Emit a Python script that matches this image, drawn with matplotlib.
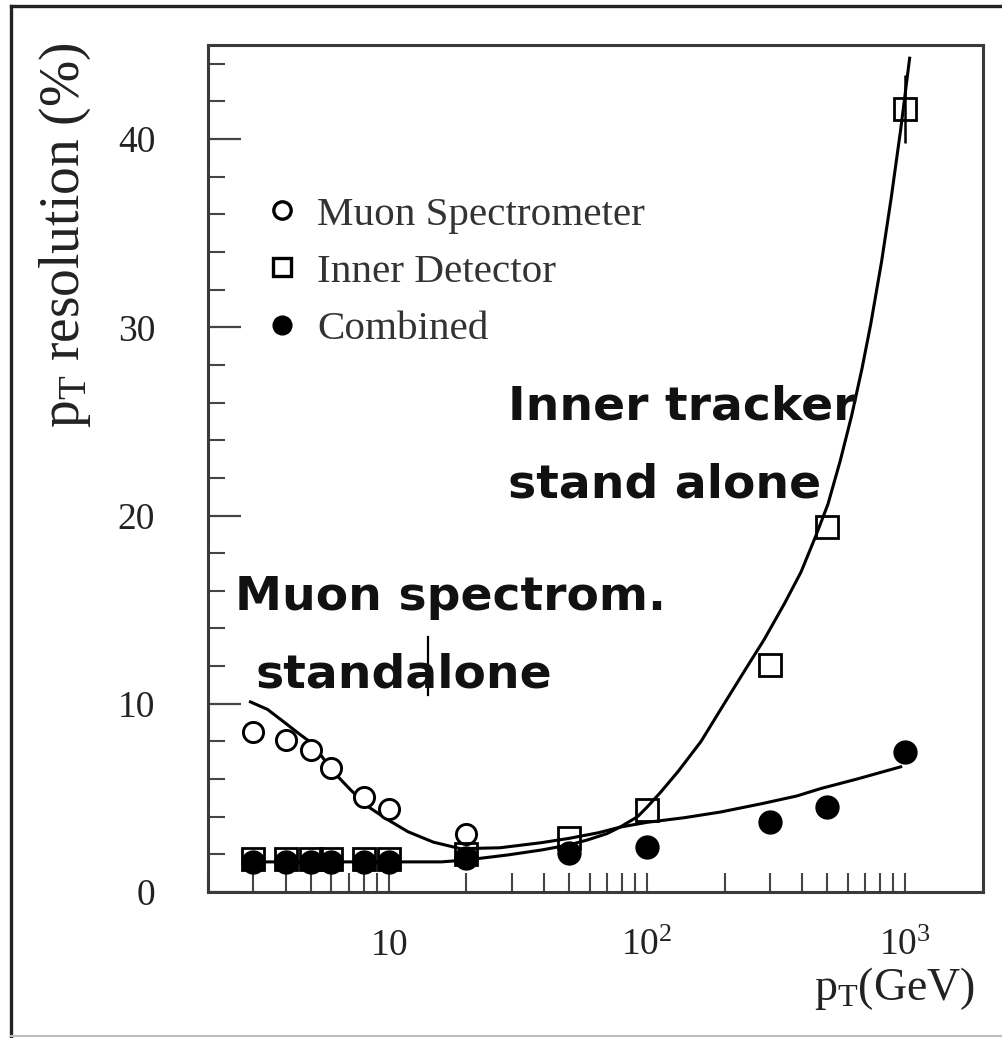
import matplotlib
matplotlib.use("Agg")
import matplotlib.pyplot as plt
from matplotlib.lines import Line2D
from matplotlib.ticker import FixedLocator, NullFormatter, FixedFormatter

plt.rcParams['font.family'] = ['Liberation Serif', 'DejaVu Serif']
plt.rcParams['mathtext.fontset'] = 'custom'
plt.rcParams['mathtext.rm'] = 'Liberation Serif'
plt.rcParams['mathtext.it'] = 'Liberation Serif:italic'

# ---- data ----
ms_pt = [3, 4, 5, 6, 8, 10, 20]
ms_res = [8.5, 8.1, 7.55, 6.6, 5.05, 4.4, 3.1]
id_pt = [3, 4, 5, 6, 8, 10, 20, 50, 100, 300, 500, 1000]
id_res = [1.75, 1.75, 1.75, 1.75, 1.75, 1.75, 2.0, 2.87, 4.36, 12.07, 19.4, 41.6]
id_err = [0, 0, 0, 0, 0, 0, 0, 0, 0, 0, 0, 1.8]
comb_pt = [3, 4, 5, 6, 8, 10, 20, 50, 100, 300, 500, 1000]
comb_res = [1.6, 1.6, 1.6, 1.6, 1.6, 1.6, 1.8, 2.07, 2.4, 3.7, 4.5, 7.45]

ms_fit_pt = [2.92, 3.4, 3.92, 4.56, 5.0, 5.45, 6.1, 7.1, 8.3, 9.9, 11.9, 14.9, 19, 27,
             39, 50, 65, 79, 100, 140, 193, 280, 380, 472, 650, 960]
ms_fit_res = [10.1, 9.7, 9.05, 8.35, 7.95, 7.3, 6.4, 5.45, 4.55, 3.85, 3.2, 2.65, 2.3, 2.35,
              2.62, 2.85, 3.15, 3.45, 3.7, 3.95, 4.25, 4.7, 5.1, 5.5, 6.0, 6.65]
id_fit_pt = [2.92, 5, 10, 16, 20, 29, 39, 50, 59, 70, 79, 92, 100, 113, 132, 162, 193, 240,
             284, 340, 395, 450, 502, 560, 620, 680, 736, 810, 883, 960, 1040]
id_fit_res = [1.6, 1.6, 1.6, 1.6, 1.7, 1.97, 2.23, 2.5, 2.77, 3.1, 3.46, 4.0, 4.5, 5.3, 6.4,
              8.0, 9.7, 11.8, 13.4, 15.3, 17.0, 18.9, 20.6, 22.9, 25.3, 27.8, 30.2, 33.5,
              36.9, 40.5, 44.3]

legend_labels = ["Muon Spectrometer", "Inner Detector", "Combined"]
x_major = [10, 100, 1000]
x_major_labels = [r"$\mathrm{10}$", r"$\mathrm{10^{2}}$", r"$\mathrm{10^{3}}$"]
y_major = [0, 10, 20, 30, 40]

W, H = 1002, 1038
fig = plt.figure(figsize=(W / 100, H / 100), dpi=100)
ax = fig.add_axes([208 / W, 1 - 892 / H, (983 - 208) / W, (892 - 45) / H])

ax.set_xscale('log')
ax.set_xlim(2, 2000)
ax.set_ylim(0, 45)

lw = 2.2
ax.plot(ms_fit_pt, ms_fit_res, color='black', lw=lw, zorder=2, solid_joinstyle='round')
ax.plot(id_fit_pt, id_fit_res, color='black', lw=lw, zorder=2, solid_joinstyle='round')

h_ms, = ax.plot(ms_pt, ms_res, 'o', ms=14.5, mfc='white', mec='black', mew=2.1,
                ls='none', zorder=3, label=legend_labels[0])
ax.errorbar(id_pt, id_res, yerr=id_err, fmt='none', ecolor='black', elinewidth=1.8, zorder=3)
h_id, = ax.plot(id_pt, id_res, 's', ms=16, mfc='none', mec='black', mew=2.0,
                ls='none', zorder=4, label=legend_labels[1])
h_cb, = ax.plot(comb_pt, comb_res, 'o', ms=16.5, mfc='black', mec='black',
                ls='none', zorder=5, label=legend_labels[2])

# legend
proxies = [Line2D([], [], marker='o', ms=12.5, mfc='white', mec='black', mew=2.4, ls='none'),
           Line2D([], [], marker='s', ms=12.5, mfc='white', mec='black', mew=2.4, ls='none'),
           Line2D([], [], marker='o', ms=13.5, mfc='black', mec='black', ls='none')]
leg = ax.legend(proxies, legend_labels, loc='upper left',
                bbox_to_anchor=(268 / W, 1 - 196 / H), bbox_transform=fig.transFigure,
                frameon=False, fontsize=29.6, handlelength=0.7, handletextpad=0.5,
                borderpad=0, borderaxespad=0, labelspacing=0.47)
for t in leg.get_texts():
    t.set_color('#333333')

# axes styling
for side in ['left', 'bottom', 'top', 'right']:
    ax.spines[side].set_linewidth(2.2)
    ax.spines[side].set_color('#3a3a3a')

ax.xaxis.set_major_locator(FixedLocator(x_major))
ax.xaxis.set_major_formatter(FixedFormatter(x_major_labels))
ax.xaxis.set_minor_locator(FixedLocator(
    [m * d for d in [1, 10, 100] for m in range(2, 10)]))
ax.xaxis.set_minor_formatter(NullFormatter())
ax.yaxis.set_major_locator(FixedLocator(y_major))
ax.yaxis.set_minor_locator(FixedLocator(list(range(0, 46, 2))))

ax.tick_params(axis='x', which='both', direction='in', bottom=True, top=False,
               length=14, width=1.5, color='#444444')
ax.tick_params(axis='x', which='major', pad=26, labelsize=27, labelcolor='#222222')
ax.tick_params(axis='y', which='major', direction='in', left=True, right=False,
               length=24, width=1.6, color='#444444', pad=38, labelsize=27,
               labelcolor='#222222')
ax.tick_params(axis='y', which='minor', direction='in', left=True, right=False,
               length=12, width=1.5, color='#444444')
# longer tick at 10^3
for tk in ax.xaxis.get_major_ticks():
    if abs(tk.get_loc() - 1000) < 1:
        tk.tick1line.set_markersize(30)

# axis titles
fig.text(65 / W, 1 - 235 / H, r"$\mathrm{p_{T}}$ resolution (%)", rotation=90,
         ha='center', va='center', fontsize=40, color='#222222')
fig.text(975 / W, 1 - 1000 / H, r"$\mathrm{p_{T}}$(GeV)", ha='right', va='baseline',
         fontsize=33, color='#222222')

# annotations
afont = dict(family='DejaVu Sans', weight='bold', fontsize=34, color='#111111')
fig.text(508 / W, 1 - 420 / H, "Inner tracker", ha='left', va='baseline', **afont)
fig.text(508 / W, 1 - 498 / H, "stand alone", ha='left', va='baseline', **afont)
fig.text(235 / W, 1 - 610 / H, "Muon spectrom.", ha='left', va='baseline', **afont)
fig.text(255 / W, 1 - 688 / H, "standalone", ha='left', va='baseline', **afont)
fig.add_artist(Line2D([428 / W, 428 / W], [1 - 637 / H, 1 - 695 / H], color='black',
                      lw=1.6, transform=fig.transFigure))

# outer frame
fig.add_artist(Line2D([11 / W, 11 / W], [1 - 6 / H, 0], color='#222222', lw=2.4,
                      transform=fig.transFigure))
fig.add_artist(Line2D([11 / W, 1.0], [1 - 6 / H, 1 - 6 / H], color='#222222', lw=2.4,
                      transform=fig.transFigure))
fig.add_artist(Line2D([11 / W, 1.0], [1 - 1036 / H, 1 - 1036 / H], color='#bbbbbb', lw=1.5,
                      transform=fig.transFigure))

fig.savefig("out.png", dpi=100)
